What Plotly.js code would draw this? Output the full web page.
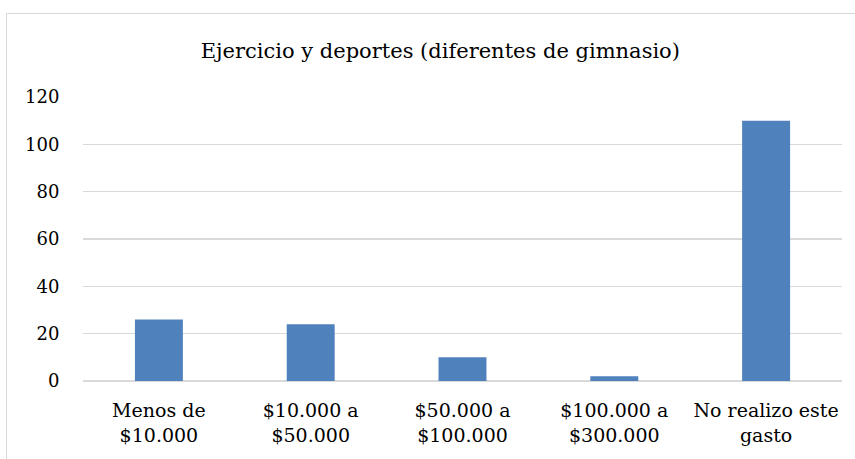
<!DOCTYPE html>
<html>
<head>
<meta charset="utf-8">
<script src="https://cdn.plot.ly/plotly-3.0.1.min.js"></script>
<style>
html,body{margin:0;padding:0;background:#fff;}
#wrap{position:relative;width:855px;height:459px;}
#frame{position:absolute;left:6px;top:13px;width:880px;height:480px;border:1.5px solid #d9d9d9;box-sizing:border-box;}
#chart{position:absolute;left:0;top:0;width:855px;height:459px;}
</style>
</head>
<body>
<div id="wrap"><div id="frame"></div><div id="chart"></div></div>
<script>
const categories = ["Menos de<br>$10.000", "$10.000 a<br>$50.000", "$50.000 a<br>$100.000", "$100.000 a<br>$300.000", "No realizo este<br>gasto"];
const values = [26, 24, 10, 2, 110];
const yTicks = [0, 20, 40, 60, 80, 100, 120];
const titleText = "Ejercicio y deportes (diferentes de gimnasio)";

const font = "DejaVu Serif";
Plotly.newPlot('chart', [{
  type: 'bar',
  x: categories,
  y: values,
  marker: {color: '#4f81bd'},
  hoverinfo: 'none'
}], {
  width: 855, height: 459,
  font: {family: font, color: '#000'},
  paper_bgcolor: 'rgba(0,0,0,0)',
  plot_bgcolor: 'rgba(0,0,0,0)',
  margin: {l: 83, r: 13, t: 97, b: 78, pad: 0},
  bargap: 0.684,
  showlegend: false,
  title: {text: titleText, font: {family: font, size: 21, color: '#000'}, x: 0.515, xref: 'container', y: 0.89, yref: 'container', xanchor: 'center', yanchor: 'middle'},
  xaxis: {
    tickfont: {family: font, size: 19, color: '#000'},
    showgrid: false, showline: false, zeroline: false,
    ticks: 'outside', ticklen: 12, tickcolor: 'rgba(0,0,0,0)'
  },
  yaxis: {
    range: [0, 120], tickvals: yTicks, ticktext: yTicks.map(String),
    tickfont: {family: font, size: 18, color: '#000'},
    showgrid: true, gridcolor: '#d9d9d9', gridwidth: 1.5,
    zeroline: true, zerolinecolor: '#d9d9d9', zerolinewidth: 1.5,
    showline: false,
    ticks: 'outside', ticklen: 19, tickcolor: 'rgba(0,0,0,0)'
  }
}, {staticPlot: true, displayModeBar: false});
</script>
</body>
</html>
